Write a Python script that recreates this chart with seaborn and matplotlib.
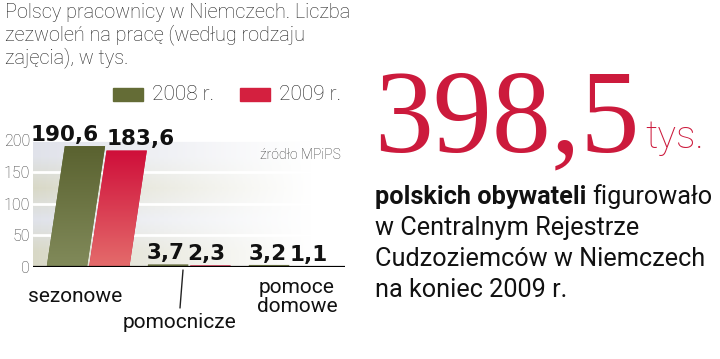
import matplotlib
matplotlib.use("Agg")
import matplotlib.pyplot as plt
import matplotlib.colors as mcolors
from matplotlib.transforms import Affine2D
import seaborn as sns
import numpy as np
import pandas as pd
from matplotlib.patches import Rectangle

categories = ["sezonowe", "pomocnicze", "pomoce domowe"]
years = ["2008 r.", "2009 r."]
values_2008 = [190.6, 3.7, 3.2]
values_2009 = [183.6, 2.3, 1.1]
value_labels_2008 = ["190,6", "3,7", "3,2"]
value_labels_2009 = ["183,6", "2,3", "1,1"]
yticks = [0, 50, 100, 150, 200]

olive = "#646c36"
red = "#d4203f"
olive_grad = ("#5a6230", "#818a5a")
red_grad = ("#cf0f3a", "#e46b6b")

sns.set_theme(style="white")
plt.rcParams['font.family'] = ['Roboto', 'DejaVu Sans']

df = pd.DataFrame({
    "cat": categories * 2,
    "year": [years[0]] * 3 + [years[1]] * 3,
    "val": values_2008 + values_2009,
})

fig = plt.figure(figsize=(7.2, 3.59), dpi=100)
W, H = 720, 359
def ax_rect(x0, y0, x1, y1):
    return [x0 / W, 1 - y1 / H, (x1 - x0) / W, (y1 - y0) / H]

ax = fig.add_axes(ax_rect(33, 137, 345, 267))
ymax = 205
XL = (-0.545, 2.545)

sns.barplot(data=df, x="cat", y="val", hue="year", palette=[olive, red],
            width=0.84, gap=0.05, ax=ax, legend=False, zorder=3,
            saturation=1)
ax.set_ylim(0, ymax)
ax.set_xlim(*XL)

# background bands fading to white
band_cols = [(0.85, 0.85, 0.78), (0.88, 0.89, 0.92), (0.85, 0.85, 0.78), (0.88, 0.89, 0.92)]
nx = 200
img = np.ones((4, nx, 4))
fade = np.clip(1.0 - np.linspace(0, 1, nx) / 0.9, 0, 1) ** 1.1
for i, c in enumerate(band_cols):
    img[i, :, :3] = c
    img[i, :, 3] = fade
ax.imshow(img, extent=(XL[0], XL[1], 0, 200), origin="lower", aspect="auto",
          zorder=0, interpolation="bilinear")
ax.set_xlim(*XL)
ax.set_ylim(0, ymax)
for yv in [50, 100, 150, 200]:
    ax.axhline(yv, color="white", lw=2, zorder=1)

# slant the bars and fill them with a vertical gradient
k = 0.15
y0 = ax.transData.transform((0, 0))[1]
shear = Affine2D().translate(0, -y0).skew(np.arctan(k), 0).translate(0, y0)
px_per_x = ax.transData.transform((1, 0))[0] - ax.transData.transform((0, 0))[0]
px_per_y = ax.transData.transform((0, 1))[1] - y0
for p in list(ax.patches):
    fc = mcolors.to_hex(p.get_facecolor())
    grad = olive_grad if fc == mcolors.to_hex(olive) else red_grad
    p.set_transform(ax.transData + shear)
    p.set_facecolor(grad[0])
    p.set_edgecolor("none")
    bx, by, bw, bh = p.get_x(), p.get_y(), p.get_width(), p.get_height()
    shift = k * bh * px_per_y / px_per_x
    cmap = mcolors.LinearSegmentedColormap.from_list("g", [grad[1], grad[0]])
    g = np.linspace(0, 1, 64).reshape(-1, 1)
    im = ax.imshow(g, cmap=cmap, extent=(bx, bx + bw + shift, by, by + bh),
                   origin="lower", aspect="auto", zorder=3.5, interpolation="bilinear")
    im.set_clip_path(p.get_path(), p.get_transform())
ax.set_xlim(*XL)
ax.set_ylim(0, ymax)

# value labels (label offsets relative to category centre)
label_dx_2008 = [-0.23, -0.23, -0.22]
label_dx_2009 = [0.52, 0.17, 0.19]
for i in range(3):
    for vals, labs, dx in [(values_2008, value_labels_2008, label_dx_2008),
                           (values_2009, value_labels_2009, label_dx_2009)]:
        ax.text(i + dx[i], vals[i] + 2, labs[i], ha="center", va="bottom",
                fontsize=15.5, fontweight="bold", family="DejaVu Sans",
                color="#111111", zorder=5)

ax.axhline(0, color="black", lw=1.6, zorder=6)
ax.set_yticks(yticks)
ax.set_yticklabels([str(t) for t in yticks], fontsize=11.5, color="#3a3a3a", fontweight="light")
ax.tick_params(axis="y", length=0, pad=2)
ax.set_xticks([])
ax.set_xlabel("")
ax.set_ylabel("")
for s in ax.spines.values():
    s.set_visible(False)

ax.text(0.985, 0.86, "źródło MPiPS", transform=ax.transAxes, ha="right", va="center",
        fontsize=10, color="#333333", fontweight="light", zorder=5)

# title
fig.text(5 / W, 1 - 3 / H, "Polscy pracownicy w Niemczech. Liczba\nzezwoleń na pracę (według rodzaju\nzajęcia), w tys.",
         ha="left", va="top", fontsize=14.3, fontweight="light", color="#222222", linespacing=1.13)

# legend
for (x0, col, lab) in [(113, olive, years[0]), (240, red, years[1])]:
    fig.patches.append(Rectangle((x0 / W, 1 - 101 / H), 30 / W, 13 / H,
                                 transform=fig.transFigure, color=col, figure=fig))
    fig.text((x0 + 39) / W, 1 - 94 / H, lab, ha="left", va="center", fontsize=15,
             fontweight="light", color="#222222")

# category labels
fig.text(28 / W, 1 - 297 / H, "sezonowe", ha="left", va="center", fontsize=15, color="#111111")
fig.text(123 / W, 1 - 323 / H, "pomocnicze", ha="left", va="center", fontsize=15, color="#111111")
fig.text(297 / W, 1 - 297 / H, "pomoce\ndomowe", ha="center", va="center", fontsize=15,
         color="#111111", linespacing=1.0)
fig.add_artist(plt.Line2D([183 / W, 180 / W], [1 - 270 / H, 1 - 308 / H], color="#222222", lw=1))

# big number
fig.text(374 / W, 1 - 151 / H, "398,5", ha="left", va="baseline", fontsize=85,
         family=["Liberation Serif", "DejaVu Serif"], color="#cc1a3c")
fig.text(645 / W, 1 - 148 / H, "tys.", ha="left", va="baseline", fontsize=28,
         fontweight="light", color="#cc1a3c")

# paragraph
lines_y = [197, 228, 259, 290]
fs = 18.2
t = fig.text(375 / W, 1 - lines_y[0] / H, "polskich obywateli", ha="left", va="center",
             fontsize=fs, fontweight="bold", color="#111111")
fig.canvas.draw()
bb = t.get_window_extent()
fig.text((bb.x1 + 6) / W, 1 - lines_y[0] / H, "figurowało", ha="left", va="center",
         fontsize=fs, color="#111111")
for txt, yy in zip(["w Centralnym Rejestrze", "Cudzoziemców w Niemczech", "na koniec 2009 r."], lines_y[1:]):
    fig.text(375 / W, 1 - yy / H, txt, ha="left", va="center", fontsize=fs, color="#111111")

fig.savefig("out.png", dpi=100)
